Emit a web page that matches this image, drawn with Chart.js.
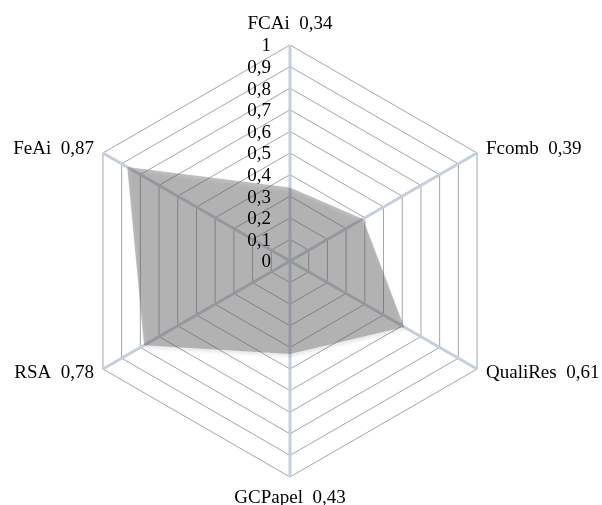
<!DOCTYPE html>
<html>
<head>
<meta charset="utf-8">
<script src="https://cdn.jsdelivr.net/npm/chart.js@4/dist/chart.umd.min.js"></script>
<style>
html,body{margin:0;padding:0;background:#fff;}
#wrap{width:602px;height:505px;}
</style>
</head>
<body>
<div id="wrap"><canvas id="c" width="602" height="505"></canvas></div>
<script>
const categories = ["FCAi  0,34", "Fcomb  0,39", "QualiRes  0,61", "GCPapel  0,43", "RSA  0,78", "FeAi  0,87"];
const values = [0.34, 0.39, 0.61, 0.43, 0.78, 0.87];
const tickValues = [0, 0.1, 0.2, 0.3, 0.4, 0.5, 0.6, 0.7, 0.8, 0.9, 1];
const tickLabels = ["0", "0,1", "0,2", "0,3", "0,4", "0,5", "0,6", "0,7", "0,8", "0,9", "1"];

const FONT = '19px "Liberation Serif", "Times New Roman", serif';

const labelsPlugin = {
  id: 'customLabels',
  beforeDatasetsDraw(chart) {
    const ctx = chart.ctx;
    ctx.save();
    ctx.shadowColor = 'rgba(0,0,0,0.2)';
    ctx.shadowBlur = 3;
    ctx.shadowOffsetX = 1;
    ctx.shadowOffsetY = 3;
  },
  afterDatasetsDraw(chart) {
    chart.ctx.restore();
  },
  afterDraw(chart) {
    const s = chart.scales.r;
    const ctx = chart.ctx;
    ctx.save();
    ctx.font = FONT;
    ctx.fillStyle = '#000';
    ctx.textAlign = 'right';
    ctx.textBaseline = 'middle';
    tickValues.forEach((v, i) => {
      const d = s.getDistanceFromCenterForValue(v);
      ctx.fillText(tickLabels[i], s.xCenter - 19, s.yCenter - d + 1.5);
    });
    const R = s.drawingArea;
    categories.forEach((lab, i) => {
      let p = s.getPointPosition(i, R + 8);
      const dx = p.x - s.xCenter;
      if (Math.abs(dx) < 1) {
        p = s.getPointPosition(i, R + 21);
        ctx.textAlign = 'center';
        ctx.fillText(lab, p.x, p.y);
      } else if (dx > 0) {
        ctx.textAlign = 'left';
        ctx.fillText(lab, p.x + 2, p.y);
      } else {
        ctx.textAlign = 'right';
        ctx.fillText(lab, p.x - 2, p.y);
      }
    });
    ctx.restore();
  }
};

new Chart(document.getElementById('c'), {
  type: 'radar',
  data: {
    labels: categories,
    datasets: [{
      data: values,
      backgroundColor: 'rgba(100,100,100,0.42)',
      borderWidth: 0,
      borderColor: 'rgba(0,0,0,0)',
      pointRadius: 0,
      pointHoverRadius: 0,
      fill: true
    }]
  },
  options: {
    responsive: false,
    animation: false,
    events: [],
    layout: { padding: { left: 60, right: 82, top: 45, bottom: 28 } },
    plugins: { legend: { display: false }, tooltip: { enabled: false } },
    scales: {
      r: {
        min: 0, max: 1,
        ticks: { display: false, stepSize: 0.1 },
        pointLabels: { display: false },
        grid: { color: '#a4a4a4', lineWidth: 1 },
        angleLines: { display: false }
      },
      r2: {
        type: 'radialLinear',
        z: 1,
        min: 0, max: 1,
        ticks: { display: false, stepSize: 0.1 },
        pointLabels: { display: false },
        grid: { display: false },
        angleLines: { display: true, color: '#c4cedc', lineWidth: 3 }
      }
    }
  },
  plugins: [labelsPlugin]
});
</script>
</body>
</html>
